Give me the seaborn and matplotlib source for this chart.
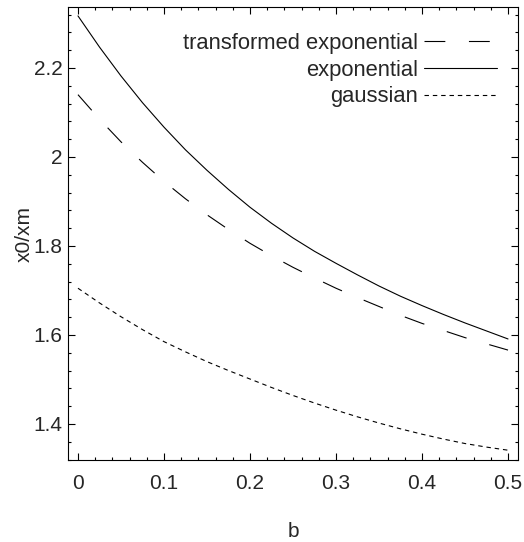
import matplotlib
matplotlib.use("Agg")
import matplotlib.pyplot as plt
import seaborn as sns
import numpy as np
import pandas as pd
from matplotlib.ticker import MultipleLocator

# ---- data ----
b_values = [0.0, 0.025, 0.05, 0.075, 0.1, 0.125, 0.15, 0.175, 0.2, 0.225, 0.25,
            0.275, 0.3, 0.325, 0.35, 0.375, 0.4, 0.425, 0.45, 0.475, 0.5]
transformed_exponential = [2.140, 2.085, 2.034, 1.988, 1.945, 1.906, 1.870, 1.837, 1.806, 1.778, 1.752,
                           1.728, 1.705, 1.684, 1.664, 1.644, 1.626, 1.610, 1.594, 1.580, 1.566]
exponential = [2.317, 2.247, 2.182, 2.122, 2.067, 2.016, 1.970, 1.927, 1.887, 1.851, 1.818,
               1.788, 1.761, 1.735, 1.710, 1.687, 1.666, 1.646, 1.627, 1.609, 1.591]
gaussian = [1.705, 1.672, 1.641, 1.612, 1.585, 1.562, 1.540, 1.520, 1.501, 1.482, 1.464,
            1.447, 1.431, 1.416, 1.402, 1.389, 1.377, 1.366, 1.356, 1.348, 1.341]
series_names = ["transformed exponential", "exponential", "gaussian"]
x_ticks = [0, 0.1, 0.2, 0.3, 0.4, 0.5]
x_tick_labels = ["0", "0.1", "0.2", "0.3", "0.4", "0.5"]
y_ticks = [1.4, 1.6, 1.8, 2.0, 2.2]
y_tick_labels = ["1.4", "1.6", "1.8", "2", "2.2"]

sns.set_style("ticks")
plt.rcParams["font.family"] = ["Liberation Sans", "DejaVu Sans"]
plt.rcParams["lines.scale_dashes"] = False

fig = plt.figure(figsize=(5.24, 5.42), dpi=100)
ax = fig.add_axes([68 / 524, 1 - 460 / 542, 450 / 524, 453 / 542])

n = len(b_values)
df = pd.DataFrame({
    "b": b_values * 3,
    "value": transformed_exponential + exponential + gaussian,
    "series": [series_names[0]] * n + [series_names[1]] * n + [series_names[2]] * n,
})

styles = {
    "transformed exponential": (0, (15, 17)),
    "exponential": "-",
    "gaussian": (0, (3.2, 2.8)),
}
for name in series_names:
    sub = df[df["series"] == name]
    sns.lineplot(data=sub, x="b", y="value", ax=ax, color="black", linewidth=0.8,
                 linestyle=styles[name], label=name, sort=True, estimator=None)

ax.set_xlim(-0.0116, 0.5116)
ax.set_ylim(1.319, 2.337)
ax.set_xticks(x_ticks)
ax.set_xticklabels(x_tick_labels)
ax.set_yticks(y_ticks)
ax.set_yticklabels(y_tick_labels)
ax.xaxis.set_minor_locator(MultipleLocator(0.02))
ax.yaxis.set_minor_locator(MultipleLocator(0.04))
ax.tick_params(which="both", direction="in", top=True, right=True, color="black", width=0.8)
ax.tick_params(which="major", length=5, labelsize=15)
ax.tick_params(which="minor", length=2.5)
ax.tick_params(axis="x", which="major", pad=10)
ax.tick_params(axis="y", which="major", pad=4)
for sp in ax.spines.values():
    sp.set_visible(True)
    sp.set_linewidth(0.8)
    sp.set_color("black")

ax.set_xlabel("b", fontsize=15, labelpad=21)
ax.set_ylabel("x0/xm", fontsize=15, labelpad=0)

leg = ax.legend(loc="upper right", bbox_to_anchor=(0.953, 0.943), frameon=False,
                markerfirst=False, fontsize=15.8, handlelength=3.3, handletextpad=0.3,
                borderpad=0, borderaxespad=0, labelspacing=0.26)

fig.savefig("out.png", dpi=100)
